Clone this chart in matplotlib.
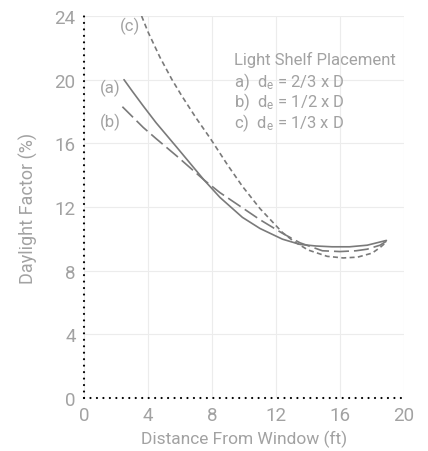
import matplotlib
matplotlib.use("Agg")
import matplotlib.pyplot as plt

# Daylight factor vs. distance from window for three light shelf placements
a_x = [2.5, 3.0, 3.7, 4.5, 5.8, 7.5, 8.5, 9.9, 11.0, 12.4, 13.5, 14.5, 15.5, 16.6, 17.7, 18.5, 18.9]
a_y = [20.0, 19.3, 18.35, 17.3, 15.75, 13.7, 12.6, 11.35, 10.65, 9.98, 9.65, 9.55, 9.5, 9.5, 9.6, 9.8, 9.9]

b_x = [2.4, 3.0, 3.7, 4.5, 5.8, 7.5, 8.5, 9.9, 11.0, 12.4, 13.5, 14.9, 16.0, 17.0, 17.7, 18.5, 18.9]
b_y = [18.3, 17.7, 17.0, 16.3, 15.2, 13.7, 12.9, 11.95, 11.2, 10.35, 9.75, 9.25, 9.2, 9.25, 9.35, 9.6, 9.85]

c_x = [3.6, 4.0, 4.75, 5.5, 6.1, 7.0, 7.9, 9.0, 9.9, 11.0, 12.4, 13.1, 14.0, 15.2, 16.2, 17.1, 18.0, 18.5, 18.9]
c_y = [24.0, 23.0, 21.4, 20.0, 19.0, 17.6, 16.3, 14.6, 13.3, 11.9, 10.4, 9.85, 9.3, 8.9, 8.8, 8.85, 9.1, 9.45, 9.8]

x_ticks = [0, 4, 8, 12, 16, 20]
y_ticks = [0, 4, 8, 12, 16, 20, 24]

legend_title = "Light Shelf Placement"
legend_lines = ["a)  d$_\\mathregular{e}$ = 2/3 x D",
                "b)  d$_\\mathregular{e}$ = 1/2 x D",
                "c)  d$_\\mathregular{e}$ = 1/3 x D"]

plt.rcParams['font.family'] = ['Roboto', 'DejaVu Sans']
plt.rcParams['mathtext.default'] = 'regular'

text_color = '#a2a2a2'
line_color = '#7a7a7a'

fig = plt.figure(figsize=(4.28, 4.52), dpi=100)
ax = fig.add_axes([84/428, 1 - 399/452, 320/428, 382/452])

ax.plot(a_x, a_y, color=line_color, lw=1.2, solid_capstyle='round')
ax.plot(b_x, b_y, color=line_color, lw=1.2, linestyle=(0, (9, 3)))
ax.plot(c_x, c_y, color=line_color, lw=1.2, linestyle=(0, (3, 2)))

ax.set_xlim(0, 20)
ax.set_ylim(0, 24)
ax.set_xticks(x_ticks)
ax.set_yticks(y_ticks)
ax.tick_params(length=0, labelsize=13.5, labelcolor=text_color, pad=6)

ax.grid(True, color='#ececec', lw=0.8)
ax.set_axisbelow(True)

for side in ('top', 'right', 'left', 'bottom'):
    ax.spines[side].set_visible(False)

# dotted axis lines along the left and bottom edges
dot_kw = dict(transform=ax.transAxes, color='black', lw=1.6,
              linestyle=(0, (0.01, 2.9)), dash_capstyle='round', clip_on=False)
ax.plot([0, 0], [0, 1], **dot_kw)
ax.plot([0, 1], [0, 0], **dot_kw)

ax.set_xlabel("Distance From Window (ft)", fontsize=12.5, color=text_color, labelpad=4)
ax.set_ylabel("Daylight Factor (%)", fontsize=13, color=text_color, labelpad=12)

lab_kw = dict(fontsize=12, color=text_color, va='center')
ax.text(2.25, 23.4, "(c)", **lab_kw)
ax.text(1.0, 19.5, "(a)", **lab_kw)
ax.text(1.0, 17.4, "(b)", **lab_kw)

ax.text(9.4, 21.3, legend_title, fontsize=12, color=text_color, va='center')
for i, s in enumerate(legend_lines):
    ax.text(9.4, 19.9 - 1.28 * i, s, fontsize=12, color=text_color, va='center')

fig.savefig("out.png", dpi=100)
